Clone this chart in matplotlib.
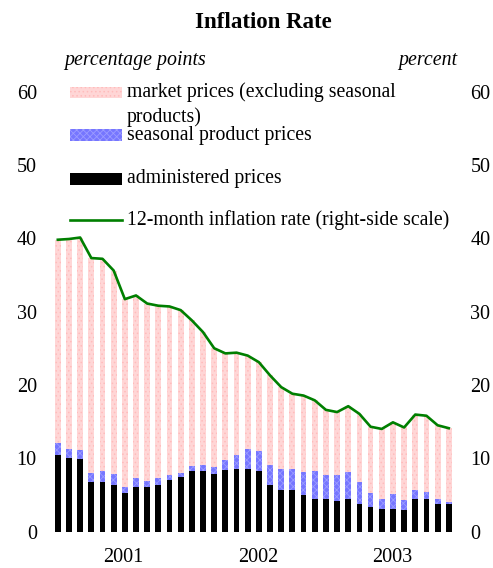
import matplotlib
matplotlib.use("Agg")
import matplotlib.pyplot as plt
from matplotlib.patches import Rectangle
from matplotlib.lines import Line2D
import numpy as np

plt.rcParams['font.family'] = ['Liberation Serif', 'DejaVu Serif']
plt.rcParams['hatch.linewidth'] = 0.6

administered = [10.4, 10.1, 9.96, 6.7, 6.8, 6.4, 5.2, 6.05, 6.05, 6.4, 7.1, 7.4,
                8.2, 8.3, 7.9, 8.45, 8.6, 8.6, 8.3, 6.4, 5.7, 5.7, 5.05, 4.5,
                4.5, 4.2, 4.5, 3.8, 3.3, 3.1, 3.1, 2.9, 4.5, 4.5, 3.7, 3.8]
seasonal = [1.65, 1.2, 1.1, 1.26, 1.5, 1.47, 0.85, 1.32, 0.91, 0.97, 0.68, 0.65,
            0.8, 0.84, 0.97, 1.35, 1.9, 2.7, 2.66, 2.74, 2.8, 2.8, 3.14, 3.8,
            3.28, 3.58, 3.69, 3.02, 2.02, 1.4, 2.08, 1.47, 1.23, 0.96, 0.8, 0.29]
market = [27.75, 28.6, 29.04, 29.34, 28.9, 27.73, 25.65, 24.83, 24.14, 23.43, 22.92, 22.15,
          19.8, 18.06, 16.13, 14.5, 13.9, 12.7, 12.14, 12.16, 11.2, 10.3, 10.36, 9.6,
          8.82, 8.52, 8.91, 9.23, 8.98, 9.5, 9.72, 9.83, 10.23, 10.34, 10.0, 10.01]
inflation = [39.8, 39.9, 40.1, 37.3, 37.2, 35.6, 31.7, 32.2, 31.1, 30.8, 30.7, 30.2,
             28.8, 27.2, 25.0, 24.3, 24.4, 24.0, 23.1, 21.3, 19.7, 18.8, 18.55, 17.9,
             16.6, 16.3, 17.1, 16.05, 14.3, 14.0, 14.9, 14.2, 15.96, 15.8, 14.5, 14.1]
year_labels = ["2001", "2002", "2003"]
yticks = [0, 10, 20, 30, 40, 50, 60]

W, H = 493, 568
fig = plt.figure(figsize=(W / 100, H / 100), dpi=100)
ax_l, ax_r, ax_b, ax_t = 50, 456.6, 531.6, 91.6
ax = fig.add_axes([ax_l / W, 1 - ax_b / H, (ax_r - ax_l) / W, (ax_b - ax_t) / H])

x = np.arange(len(administered))
adm = np.array(administered)
sea = np.array(seasonal)
mkt = np.array(market)
bw = 0.52
pink = '#ffd6d6'
pink_h = '#ffbcbc'
blue = '#7676ff'
blue_h = '#9c9cff'
ax.bar(x, adm, bw, color='black', lw=0)
ax.bar(x, sea, bw, bottom=adm, facecolor=blue, edgecolor=blue_h, hatch='xxxxx', lw=0)
ax.bar(x, mkt, bw, bottom=adm + sea, facecolor=pink, edgecolor=pink_h, hatch='....', lw=0)

ax.set_xlim(-0.7, 35.7)
ax.set_ylim(0, 60)
for s in ax.spines.values():
    s.set_visible(False)
ax.set_yticks(yticks)
ax.tick_params(axis='y', length=0, pad=9.5, labelsize=14.5)
ax.set_xticks([5.9, 17.9, 29.9])
ax.set_xticklabels(year_labels)
ax.tick_params(axis='x', length=0, pad=12, labelsize=14.5)

ax2 = ax.twinx()
ax2.plot(x, inflation, color='#007f00', lw=1.9)
ax2.set_ylim(0, 60)
ax2.set_yticks(yticks)
ax2.tick_params(axis='y', length=0, pad=10, labelsize=14.5)
for s in ax2.spines.values():
    s.set_visible(False)

# title and unit labels
fig.text(263 / W, 1 - 23 / H, "Inflation Rate", ha='center', va='center', fontsize=16.5, fontweight='bold')
fig.text(64 / W, 1 - 61 / H, "percentage points", ha='left', va='center', fontsize=14.3, style='italic')
fig.text(457 / W, 1 - 61 / H, "percent", ha='right', va='center', fontsize=14.3, style='italic')

# manual legend (axes fraction coordinates)
def yf(py):
    return (ax_b - py) / (ax_b - ax_t)

px0, px1, tx = (70 - ax_l) / (ax_r - ax_l), (122 - ax_l) / (ax_r - ax_l), (127 - ax_l) / (ax_r - ax_l)
fs = 14.2
ax2.add_patch(Rectangle((px0, yf(98)), px1 - px0, yf(87) - yf(98), transform=ax2.transAxes,
                        facecolor=pink, edgecolor=pink_h, hatch='....', lw=0, clip_on=False))
ax2.text(tx, yf(92.5), "market prices (excluding seasonal", transform=ax2.transAxes, va='center', fontsize=fs)
ax2.text(tx, yf(117), "products)", transform=ax2.transAxes, va='center', fontsize=fs)
ax2.add_patch(Rectangle((px0, yf(141)), px1 - px0, yf(129) - yf(141), transform=ax2.transAxes,
                        facecolor=blue, edgecolor=blue_h, hatch='xxxxx', lw=0, clip_on=False))
ax2.text(tx, yf(135.5), "seasonal product prices", transform=ax2.transAxes, va='center', fontsize=fs)
ax2.add_patch(Rectangle((px0, yf(185)), px1 - px0, yf(173) - yf(185), transform=ax2.transAxes,
                        facecolor='black', lw=0, clip_on=False))
ax2.text(tx, yf(179), "administered prices", transform=ax2.transAxes, va='center', fontsize=fs)
ax2.add_line(Line2D([px0, px1], [yf(220), yf(220)], transform=ax2.transAxes, color='#007f00', lw=1.9))
ax2.text(tx, yf(220), "12-month inflation rate (right-side scale)", transform=ax2.transAxes, va='center', fontsize=fs)

fig.savefig("out.png", dpi=100)
